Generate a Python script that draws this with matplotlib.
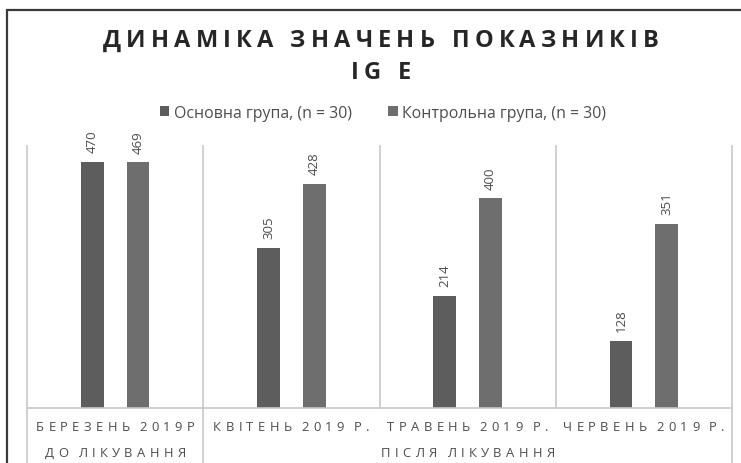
import matplotlib.pyplot as plt
import matplotlib.patches as mpatches
from matplotlib.font_manager import FontProperties
import numpy as np

FAMILY = ['Open Sans', 'DejaVu Sans']
plt.rcParams['font.family'] = FAMILY

# дані
months = ["БЕРЕЗЕНЬ 2019Р", "КВІТЕНЬ 2019 Р.", "ТРАВЕНЬ 2019 Р.", "ЧЕРВЕНЬ 2019 Р."]
groups = ["ДО ЛІКУВАННЯ", "ПІСЛЯ ЛІКУВАННЯ"]
group_span = [(0, 0), (1, 3)]
main_group = [470, 305, 214, 128]
control_group = [469, 428, 400, 351]
series_names = ["Основна група, (n = 30)", "Контрольна група, (n = 30)"]
title_lines = ["ДИНАМІКА ЗНАЧЕНЬ ПОКАЗНИКІВ", "IG E"]

c_main = "#5d5d5d"
c_ctrl = "#6e6e6e"
c_grid = "#c8c8c8"
c_text = "#4d4d4d"

W, H = 741, 464
fig = plt.figure(figsize=(W / 100, H / 100), dpi=100)
ax = fig.add_axes([27 / W, (H - 409) / H, (732 - 27) / W, (409 - 147) / H])
renderer = fig.canvas.get_renderer()


def char_widths(s, fp, space_w):
    out = []
    for c in s:
        if c == " ":
            out.append(space_w)
        else:
            out.append(renderer.get_text_width_height_descent(c, fp, ismath=False)[0])
    return out


def fit_track(s, fp, space_w, width):
    ws = char_widths(s, fp, space_w)
    return (width - sum(ws)) / (len(s) - 1)


def tracked_text(xc, y_base, s, fp, track, space_w, color):
    # текст з розрядкою, xc/y_base - пікселі (y від верхнього краю)
    ws = char_widths(s, fp, space_w)
    total = sum(ws) + track * (len(s) - 1)
    pos = xc - total / 2
    for c, w in zip(s, ws):
        if c != " ":
            fig.text(pos / W, 1 - y_base / H, c, ha="left", va="baseline",
                     fontproperties=fp, color=color)
        pos += w + track


x = np.arange(len(months))
bw = 0.13
ax.bar(x - bw, main_group, bw, color=c_main, label=series_names[0])
ax.bar(x + bw, control_group, bw, color=c_ctrl, label=series_names[1])

for xi, v in zip(x - bw, main_group):
    ax.annotate(str(v), (xi, v), xytext=(0, 7), textcoords="offset points",
                rotation=90, ha="center", va="bottom", fontsize=9.5, color=c_text)
for xi, v in zip(x + bw, control_group):
    ax.annotate(str(v), (xi, v), xytext=(0, 7), textcoords="offset points",
                rotation=90, ha="center", va="bottom", fontsize=9.5, color=c_text)

ax.set_xlim(-0.5, len(months) - 0.5)
ax.set_ylim(0, 500)
ax.set_xticks([])
ax.set_yticks([])
for s in ax.spines.values():
    s.set_visible(False)

# лінії між категоріями
ax.axhline(0, color=c_grid, lw=1.2, clip_on=False)
for b in np.arange(-0.5, len(months), 1.0):
    long_line = b in (-0.5, 0.5, len(months) - 0.5)
    ymin = -55 / 262 if long_line else 0
    ax.plot([b, b], [ymin * 500, 500], color=c_grid, lw=1.2, clip_on=False)

# підписи категорій
fp_cat = FontProperties(family=FAMILY, size=9.4)
cat_track = fit_track(months[0], fp_cat, 1.0, 158)
for xi, m in zip(x, months):
    xc = ax.transData.transform((xi, 0))[0]
    tracked_text(xc, 431, m, fp_cat, cat_track, 1.0, c_text)
for g, (a, b) in zip(groups, group_span):
    xc = ax.transData.transform(((a + b) / 2, 0))[0]
    tracked_text(xc, 457, g, fp_cat, cat_track, 1.0, c_text)

# заголовок
fp_title = FontProperties(family=FAMILY, size=17, weight="bold")
title_track = fit_track(title_lines[0], fp_title, 7, 556)
tracked_text(381, 47, title_lines[0], fp_title, title_track, 7, "#262626")
tracked_text(381, 79, title_lines[1], fp_title, title_track, 7, "#262626")

leg = fig.legend(loc="center", bbox_to_anchor=(383 / W, 1 - 114 / H), ncol=2,
                 frameon=False, fontsize=11.4, handlelength=0.6, handleheight=0.6,
                 handletextpad=0.3, columnspacing=2.3, labelcolor=c_text)

# рамка
fig.patches.append(mpatches.Rectangle((7 / W, -0.2), 2, 1 - 11 / H + 0.2,
                                      transform=fig.transFigure, fill=False,
                                      edgecolor="#3a3a3a", lw=1.6))

fig.savefig("out.png", dpi=100)
